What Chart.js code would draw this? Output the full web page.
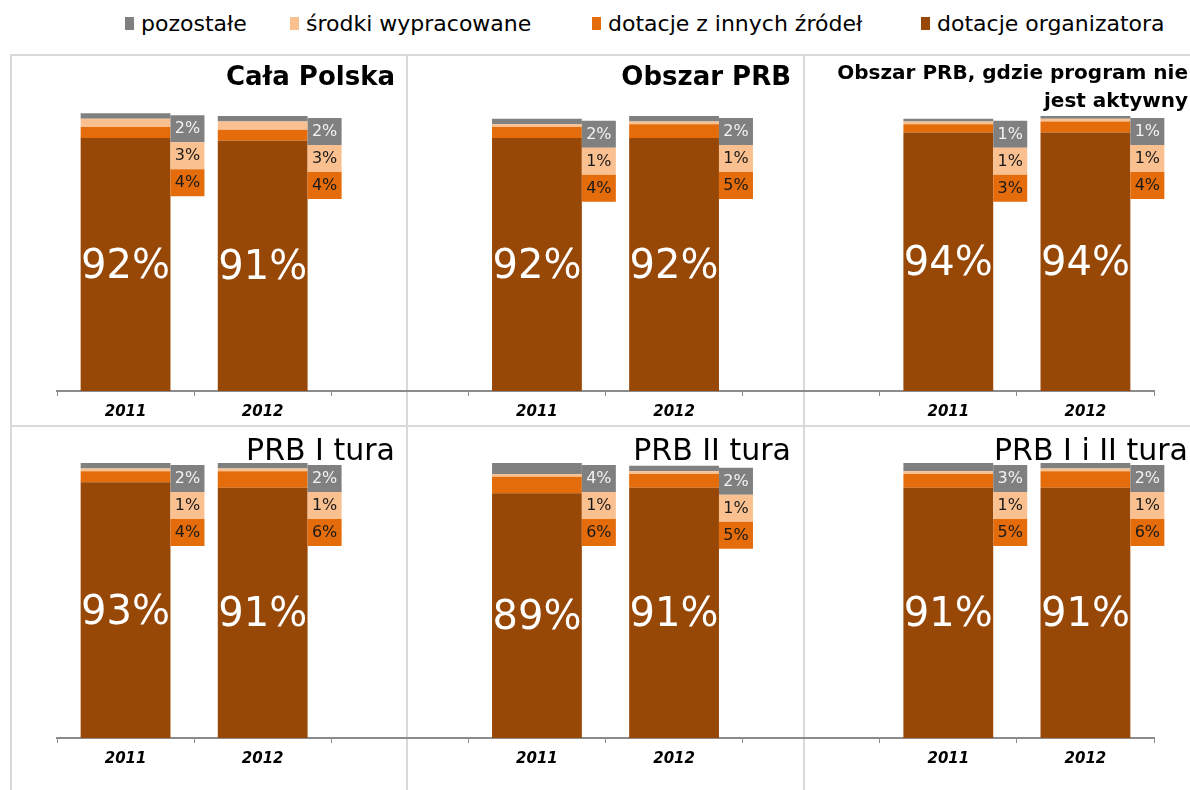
<!DOCTYPE html>
<html>
<head>
<meta charset="utf-8">
<script src="https://cdn.jsdelivr.net/npm/chart.js@4.4.0/dist/chart.umd.min.js"></script>
<style>
    body { margin: 0; background: #fff; }
    #wrap { position: relative; width: 1190px; height: 790px; overflow: hidden; font-family: 'DejaVu Sans', sans-serif; }
    .ln { position: absolute; background: #d9d9d9; }
    #legend { position: absolute; top: 11px; left: 0; width: 1190px; height: 30px; font-size: 22px; color: #000; }
    #legend .item { position: absolute; top: 0; display: flex; align-items: center; white-space: nowrap; }
    #legend .box { width: 9px; height: 13px; margin-right: 7px; }
    canvas { position: absolute; left: 0; }
</style>
</head>
<body>
<div id="wrap">
    <div class="ln" style="left:10px;top:54px;width:2px;height:736px"></div>
    <div class="ln" style="left:10px;top:54px;width:1180px;height:2px"></div>
    <div class="ln" style="left:406px;top:54px;width:2px;height:736px"></div>
    <div class="ln" style="left:803px;top:54px;width:2px;height:736px"></div>
    <div class="ln" style="left:10px;top:425px;width:1180px;height:2px"></div>
    <div id="legend"></div>
    <canvas id="row1" width="1190" height="428" style="top:0"></canvas>
    <canvas id="row2" width="1190" height="348" style="top:427px"></canvas>
</div>
<script>
// Dane (%), kolejność kategorii: 3 panele x (2011, 2012) z pustą kolumną pomiędzy
const years = ['2011', '2012', '', '2011', '2012', '', '2011', '2012'];

const seriesNames = ['dotacje organizatora', 'dotacje z innych źródeł', 'środki wypracowane', 'pozostałe'];
const seriesColors = ['#974706', '#E46C0A', '#FAC090', '#808080'];

// górny rząd: Cała Polska, Obszar PRB, Obszar PRB gdzie program nie jest aktywny
const organizatora1 = [92, 91, null, 92, 92, null, 94, 94];
const inneZrodla1 = [4, 4, null, 4, 5, null, 3, 4];
const wypracowane1 = [3, 3, null, 1, 1, null, 1, 1];
const pozostale1 = [2, 2, null, 2, 2, null, 1, 1];

// dolny rząd: PRB I tura, PRB II tura, PRB I i II tura
const organizatora2 = [93, 91, null, 89, 91, null, 91, 91];
const inneZrodla2 = [4, 6, null, 6, 5, null, 5, 6];
const wypracowane2 = [1, 1, null, 1, 1, null, 1, 1];
const pozostale2 = [2, 2, null, 4, 2, null, 3, 2];

const titles1 = ['Cała Polska', 'Obszar PRB', ['Obszar PRB, gdzie program nie', 'jest aktywny']];
const titles2 = ['PRB I tura', 'PRB II tura', 'PRB I i II tura'];

const FONT = "'DejaVu Sans', sans-serif";

// legenda (HTML): pozostałe ... dotacje organizatora, od lewej
const legendLeft = [125, 290, 592, 921];
const legendEl = document.getElementById('legend');
for (let i = seriesNames.length - 1, n = 0; i >= 0; i--, n++) {
    const item = document.createElement('div');
    item.className = 'item';
    item.style.left = legendLeft[n] + 'px';
    item.innerHTML = '<span class="box" style="background:' + seriesColors[i] + '"></span>' + seriesNames[i];
    legendEl.appendChild(item);
}

// etykiety wartości: duża w słupku, małe w ramkach obok
const valueLabels = {
    id: 'valueLabels',
    afterDatasetsDraw(chart) {
        const ctx = chart.ctx;
        const ds = chart.data.datasets;
        const metas = ds.map((d, i) => chart.getDatasetMeta(i));
        ctx.save();
        chart.data.labels.forEach((lab, i) => {
            if (ds[0].data[i] == null) return;
            const bottom = metas[0].data[i];
            ctx.fillStyle = '#fff';
            ctx.font = '40px ' + FONT;
            ctx.textAlign = 'center';
            ctx.textBaseline = 'middle';
            ctx.fillText(ds[0].data[i] + '%', bottom.x, (bottom.y + bottom.base) / 2 + 3);

            const top = metas[3].data[i];
            const x0 = bottom.x + bottom.width / 2;
            let y = top.y + 2;
            for (let k = 3; k >= 1; k--) {
                ctx.fillStyle = seriesColors[k];
                ctx.fillRect(x0, y, 34, 27);
                ctx.fillStyle = k === 3 ? '#f2f2f2' : '#1a1a1a';
                ctx.font = '16px ' + FONT;
                ctx.fillText(ds[k].data[i] + '%', x0 + 17, y + 14);
                y += 27;
            }
        });
        ctx.restore();
    }
};

// tytuły paneli wyrównane do prawej
const panelRight = [395, 791, 1188];
function panelTitles(titles, titleY, weight, size) {
    return {
        id: 'panelTitles',
        afterDraw(chart) {
            const ctx = chart.ctx;
            ctx.save();
            ctx.fillStyle = '#000';
            ctx.textAlign = 'right';
            ctx.textBaseline = 'middle';
            titles.forEach((t, i) => {
                if (Array.isArray(t)) {
                    ctx.font = 'bold 20px ' + FONT;
                    ctx.fillText(t[0], panelRight[i], titleY - 4);
                    ctx.fillText(t[1], panelRight[i], titleY + 24);
                } else {
                    ctx.font = weight + ' ' + size + 'px ' + FONT;
                    ctx.fillText(t, panelRight[i], titleY);
                }
            });
            ctx.restore();
        }
    };
}

function makeRow(id, values, titles, padTop, titleY, weight, size) {
    const ctx = document.getElementById(id).getContext('2d');
    return new Chart(ctx, {
        type: 'bar',
        data: {
            labels: years,
            datasets: values.map((v, i) => ({
                label: seriesNames[i],
                data: v,
                backgroundColor: seriesColors[i],
                borderWidth: 0,
                barPercentage: 0.655,
                categoryPercentage: 1,
                clip: false
            }))
        },
        options: {
            responsive: false,
            animation: false,
            layout: { padding: { top: padTop, left: 57, right: 36, bottom: 0 } },
            plugins: {
                legend: { display: false },
                tooltip: { enabled: false }
            },
            scales: {
                x: {
                    stacked: true,
                    grid: { drawOnChartArea: false, tickLength: 5, color: '#8c8c8c', offset: true },
                    border: { color: '#8c8c8c', width: 2 },
                    ticks: {
                        padding: 7,
                        color: '#000',
                        font: { family: FONT, size: 15, weight: 'bold', style: 'italic' }
                    }
                },
                y: { stacked: true, display: false, min: 0, max: 100 }
            }
        },
        plugins: [valueLabels, panelTitles(titles, titleY, weight, size)]
    });
}

makeRow('row1', [organizatora1, inneZrodla1, wypracowane1, pozostale1], titles1, 116, 78, 'bold', 26);
makeRow('row2', [organizatora2, inneZrodla2, wypracowane2, pozostale2], titles2, 36, 25, 'normal', 30);
</script>
</body>
</html>
